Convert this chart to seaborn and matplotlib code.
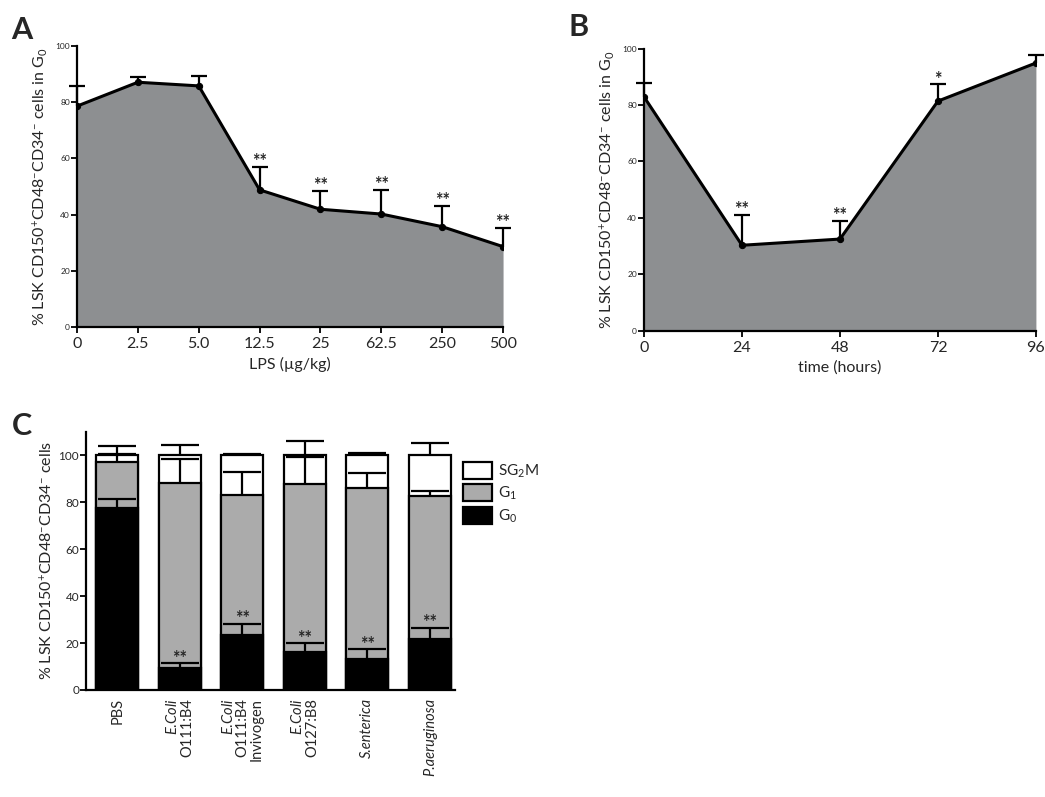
import matplotlib
matplotlib.use("Agg")
import matplotlib.pyplot as plt
import seaborn as sns
import numpy as np
from matplotlib.patches import Patch

# Panel A: LPS dose response
doses = ["0", "2.5", "5.0", "12.5", "25", "62.5", "250", "500"]
g0_dose = [78.6, 87.1, 85.8, 48.8, 41.9, 40.2, 35.7, 28.6]
g0_dose_err = [7.2, 1.8, 3.6, 8.2, 6.6, 8.6, 7.5, 6.7]
dose_stars = ["", "", "", "**", "**", "**", "**", "**"]

# Panel B: time course
hours = [0, 24, 48, 72, 96]
g0_time = [82.9, 30.3, 32.5, 81.4, 94.9]
g0_time_err = [4.9, 10.7, 6.5, 5.9, 2.7]
time_stars = ["", "**", "**", "*", ""]

# Panel C: cell cycle per LPS source
groups = ["PBS", "$\\mathit{E.\\!Coli}$\nO111:B4", "$\\mathit{E.\\!Coli}$\nO111:B4\nInvivogen",
          "$\\mathit{E.\\!Coli}$\nO127:B8", "S.enterica", "P.aeruginosa"]
group_italic = [False, False, False, False, True, True]
g0 = [77.5, 9.2, 23.6, 16.0, 13.0, 21.8]
g0_err = [3.8, 2.1, 4.7, 3.8, 4.3, 4.6]
g1 = [19.7, 78.8, 59.6, 71.8, 73.0, 60.8]
g1_err = [3.2, 10.3, 9.8, 11.6, 6.6, 2.0]
sg2m = [2.8, 12.0, 16.8, 12.2, 14.0, 17.4]
sg2m_err = [4.0, 4.2, 0.7, 6.0, 1.1, 5.4]
group_stars = ["", "**", "**", "**", "**", "**"]

sns.set_style("ticks")
plt.rcParams["font.family"] = ["Lato", "DejaVu Sans"]
plt.rcParams["mathtext.fontset"] = "custom"
plt.rcParams["mathtext.rm"] = "Lato"
plt.rcParams["mathtext.it"] = "Lato:italic"
plt.rcParams["mathtext.bf"] = "Lato:bold"

FILL = "#8d8f91"
ylab_g0 = "% LSK CD150$^{+}$CD48$^{-}$CD34$^{-}$ cells in G$_{0}$"

fig = plt.figure(figsize=(10.45, 7.97), dpi=100)


def style_axes(ax, tick_size=6):
    sns.despine(ax=ax)
    for s in ["left", "bottom"]:
        ax.spines[s].set_linewidth(1.6)
        ax.spines[s].set_color("black")
    ax.tick_params(axis="both", direction="out", length=4, width=1.3, color="black")
    ax.tick_params(axis="y", labelsize=tick_size, pad=1)


def up_errorbar(ax, x, y, err, capsize, lw, **kw):
    # only the upper half of the error bar, with a cap on top
    eb = ax.errorbar(x, y, yerr=[np.zeros(len(err)), err], fmt="none", ecolor="black",
                     elinewidth=lw, capsize=capsize, capthick=lw, **kw)
    for cap in eb[1]:
        if np.allclose(cap.get_ydata(), np.asarray(y, dtype=float)):
            cap.set_visible(False)
    return eb


def add_stars(ax, x, tops, stars, off, size=13):
    for xi, ti, st in zip(x, tops, stars):
        if st:
            ax.text(xi, ti + off, st, ha="center", va="center",
                    fontsize=size, fontweight="bold", zorder=6)


def line_panel(ax, x, y, err, stars, star_off):
    ax.fill_between(x, 0, y, color=FILL, lw=0, zorder=1)
    sns.lineplot(x=x, y=y, ax=ax, color="black", lw=2.2, marker="o", markersize=4.5,
                 markeredgecolor="black", zorder=3)
    up_errorbar(ax, x, y, err, 6, 1.6, zorder=3, clip_on=False)
    add_stars(ax, x, np.array(y) + np.array(err), stars, star_off)
    ax.set_ylim(0, 100)
    ax.set_yticks([0, 20, 40, 60, 80, 100])


# ---- A ----
axA = fig.add_axes([0.0737, 0.5897, 0.4077, 0.3526])
xa = np.arange(len(doses))
line_panel(axA, xa, g0_dose, g0_dose_err, dose_stars, 1.8)
axA.set_xlim(0, len(doses) - 1)
axA.set_xticks(xa)
axA.set_xticklabels(doses, fontsize=11.5)
axA.set_xlabel("LPS (µg/kg)", fontsize=11.5)
axA.set_ylabel(ylab_g0, fontsize=11.5, labelpad=4)
style_axes(axA)

# ---- B ----
axB = fig.add_axes([0.6163, 0.585, 0.375, 0.354])
line_panel(axB, np.array(hours), g0_time, g0_time_err, time_stars, 1.8)
axB.set_xlim(0, 96)
axB.set_xticks(hours)
axB.set_xticklabels([str(h) for h in hours], fontsize=11.5)
axB.set_xlabel("time (hours)", fontsize=11.5)
axB.set_ylabel(ylab_g0, fontsize=11.5, labelpad=4)
style_axes(axB)

# ---- C ----
axC = fig.add_axes([0.0823, 0.1343, 0.353, 0.324])
g0a = np.array(g0)
g1_top = g0a + np.array(g1)
total = g1_top + np.array(sg2m)
xc = np.arange(len(groups))
bar_kw = dict(edgecolor="black", linewidth=1.6, width=0.67, ax=axC, errorbar=None)
sns.barplot(x=xc, y=total, color="white", **bar_kw)
sns.barplot(x=xc, y=g1_top, color="#ababab", **bar_kw)
sns.barplot(x=xc, y=g0a, color="black", **bar_kw)
for tops, err in [(total, sg2m_err), (g1_top, g1_err), (g0a, g0_err)]:
    up_errorbar(axC, xc, tops, err, 14, 1.6, zorder=5)
add_stars(axC, xc, g0a + np.array(g0_err), group_stars, 2.2)
axC.set_xlim(-0.5, 5.4)
axC.set_ylim(0, 110)
axC.set_yticks([0, 20, 40, 60, 80, 100])
axC.set_xticks(xc)
axC.set_xticklabels(groups, rotation=90, fontsize=10.5, va="top", ha="center",
                    multialignment="right", linespacing=1.0)
for lab, it in zip(axC.get_xticklabels(), group_italic):
    if it:
        lab.set_fontstyle("italic")
axC.set_ylabel("% LSK CD150$^{+}$CD48$^{-}$CD34$^{-}$ cells", fontsize=11.5, labelpad=2)
style_axes(axC, tick_size=8.5)
axC.tick_params(axis="x", length=0, pad=6)

handles = [Patch(facecolor="white", edgecolor="black", lw=1.6, label="SG$_{2}$M"),
           Patch(facecolor="#ababab", edgecolor="black", lw=1.6, label="G$_{1}$"),
           Patch(facecolor="black", edgecolor="black", lw=1.6, label="G$_{0}$")]
fig.legend(handles=handles, loc="upper left", bbox_to_anchor=(0.437, 0.428),
           frameon=False, fontsize=11, handlelength=1.9, handleheight=1.3,
           handletextpad=0.4, labelspacing=0.3, borderaxespad=0)

# panel letters
fig.text(0.011, 0.945, "A", fontsize=22, fontweight="bold", va="bottom")
fig.text(0.544, 0.948, "B", fontsize=22, fontweight="bold", va="bottom")
fig.text(0.011, 0.448, "C", fontsize=22, fontweight="bold", va="bottom")

fig.savefig("out.png", dpi=100, facecolor="white")
